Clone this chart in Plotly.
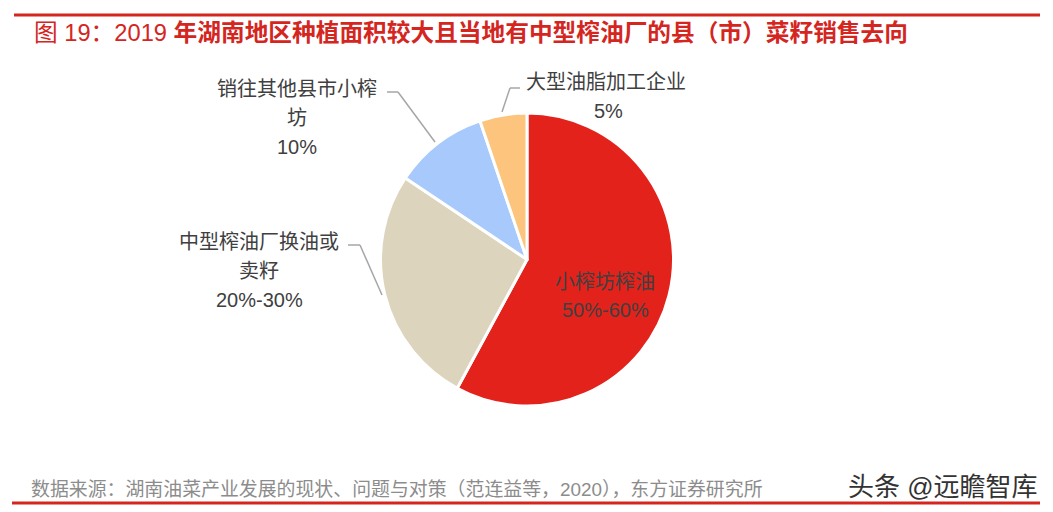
import plotly.graph_objects as go

W, H = 1053, 512

labels = ["小榨坊榨油", "中型榨油厂换油或卖籽", "销往其他县市小榨坊", "大型油脂加工企业"]
values = [57.9, 26.5, 10.4, 5.2]
pct_text = ["50%-60%", "20%-30%", "10%", "5%"]
colors = ["#E3221B", "#DDD4BE", "#A7C9FB", "#FDC47D"]

title_prefix = "图 19：2019 "
title_main = "年湖南地区种植面积较大且当地有中型榨油厂的县（市）菜籽销售去向"
source = "数据来源：湖南油菜产业发展的现状、问题与对策（范连益等，2020），东方证券研究所"
watermark = "头条 @远瞻智库"

FONT = "Liberation Sans, Noto Sans CJK SC, sans-serif"

def px(x):
    return x / W

def py(y):
    return 1 - y / H

cx, cy, r = 527, 259.5, 146.5

fig = go.Figure()
fig.add_trace(go.Pie(
    labels=labels,
    values=values,
    sort=False,
    direction="clockwise",
    rotation=0,
    textinfo="none",
    hoverinfo="label+percent",
    marker=dict(colors=colors, line=dict(color="white", width=3)),
    domain=dict(x=[px(cx - r), px(cx + r)], y=[py(cy + r), py(cy - r)]),
    showlegend=False,
))

annotations = []

def text(x, y, s, size=21, color="#404040", anchor="center"):
    annotations.append(dict(
        x=px(x), y=py(y), xref="paper", yref="paper", text=s, showarrow=False,
        xanchor=anchor, yanchor="middle",
        font=dict(family=FONT, size=size, color=color),
    ))

# title
annotations.append(dict(
    x=px(32), y=py(33), xref="paper", yref="paper",
    text=title_prefix + "<b>" + title_main + "</b>",
    showarrow=False, xanchor="left", yanchor="middle",
    font=dict(family=FONT, size=23.7, color="#D4261F"),
))

# pie labels
text(605, 282, labels[0], size=20)
text(605, 310, pct_text[0], size=20)

text(259, 242, "中型榨油厂换油或", size=20)
text(259, 271, "卖籽", size=20)
text(259, 300, pct_text[1], size=20)

text(297, 89, "销往其他县市小榨", size=20)
text(297, 118, "坊", size=20)
text(297, 147, pct_text[2], size=20)

text(606, 82, labels[3], size=20)
text(608, 111, pct_text[3], size=20)

# source & watermark
text(29, 489, source, size=18.9, color="#8C8C8C", anchor="left")
text(846, 487, watermark, size=26, color="#333333", anchor="left")

fig.update_layout(annotations=annotations)

shapes = []

def seg(x0, y0, x1, y1, color="#A6A6A6", width=1.5):
    shapes.append(dict(type="line", xref="paper", yref="paper",
                       x0=px(x0), y0=py(y0), x1=px(x1), y1=py(y1),
                       line=dict(color=color, width=width)))

# red frame lines
seg(14, 15, 1040, 15, color="#D4261F", width=3)
seg(12, 503, 1040, 503, color="#D4261F", width=3)

# leader lines
seg(387, 92, 398, 92)
seg(398, 92, 435, 142)
seg(348, 245, 360, 245)
seg(360, 245, 382, 295)
seg(520, 88, 510, 88)
seg(510, 88, 502, 112)

fig.update_layout(
    shapes=shapes,
    width=W, height=H,
    margin=dict(l=0, r=0, t=0, b=0),
    paper_bgcolor="white",
    plot_bgcolor="white",
)

fig.write_html("out.html")
